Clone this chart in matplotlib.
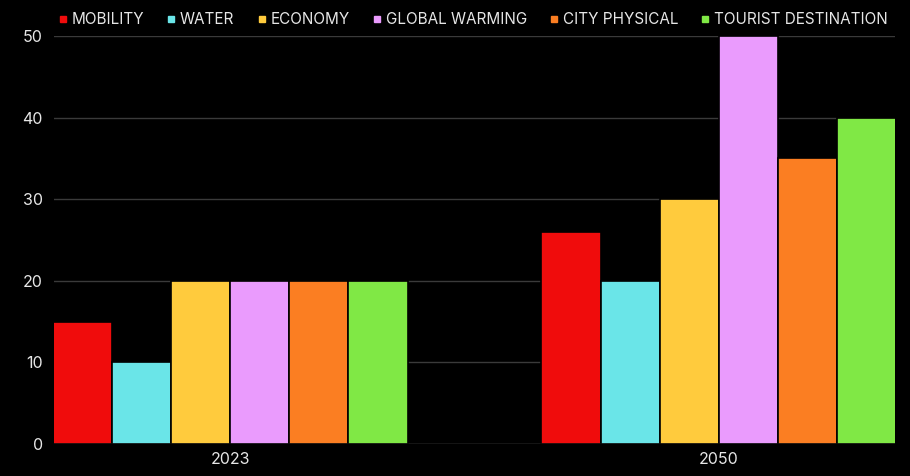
import numpy as np
import matplotlib.pyplot as plt
from matplotlib.lines import Line2D

plt.rcParams['font.family'] = ['Inter', 'DejaVu Sans']

# Data
years = ["2023", "2050"]
series_names = ["MOBILITY", "WATER", "ECONOMY", "GLOBAL WARMING",
                "CITY PHYSICAL", "TOURIST DESTINATION"]
mobility = [15, 26]
water = [10, 20]
economy = [20, 30]
global_warming = [20, 50]
city_physical = [20, 35]
tourist_destination = [20, 40]
colors = ["#f00c0c", "#6ae5e8", "#ffcb3d", "#ea9bfd", "#fb7e22", "#80e845"]

series = [mobility, water, economy, global_warming, city_physical, tourist_destination]

fig = plt.figure(figsize=(9.1, 4.76), dpi=100, facecolor="black")
ax = fig.add_axes([54 / 910, 32 / 476, 841 / 910, 408 / 476])
ax.set_facecolor("black")

x = np.arange(len(years))
step = 0.121
n = len(series)
for i, (vals, col) in enumerate(zip(series, colors)):
    offset = (i - (n - 1) / 2) * step
    ax.bar(x + offset, vals, width=step, color=col, edgecolor="black",
           linewidth=1.2, zorder=3)

ax.set_xlim(-0.36, 1.36)
ax.set_ylim(0, 50)
ax.set_yticks([0, 10, 20, 30, 40, 50])
ax.set_xticks(x)
ax.set_xticklabels(years)
ax.grid(axis="y", color="#3a3a3a", linewidth=1, zorder=0)
ax.tick_params(colors="#e6e6e6", labelsize=11.5, length=0, pad=8)
ax.tick_params(axis="x", pad=6)
for s in ax.spines.values():
    s.set_visible(False)
ax.axhline(0, color="#3a3a3a", linewidth=1, zorder=4)

handles = [Line2D([], [], marker="s", linestyle="", markersize=4.5,
                  markerfacecolor=c, markeredgecolor=c) for c in colors]
fig.legend(handles, series_names, loc="center", bbox_to_anchor=(0.52, 0.958),
           ncol=6, frameon=False, fontsize=11, labelcolor="#e6e6e6",
           handlelength=0.55, handletextpad=0.3, columnspacing=1.5)

fig.savefig("out.png", dpi=100, facecolor="black")
